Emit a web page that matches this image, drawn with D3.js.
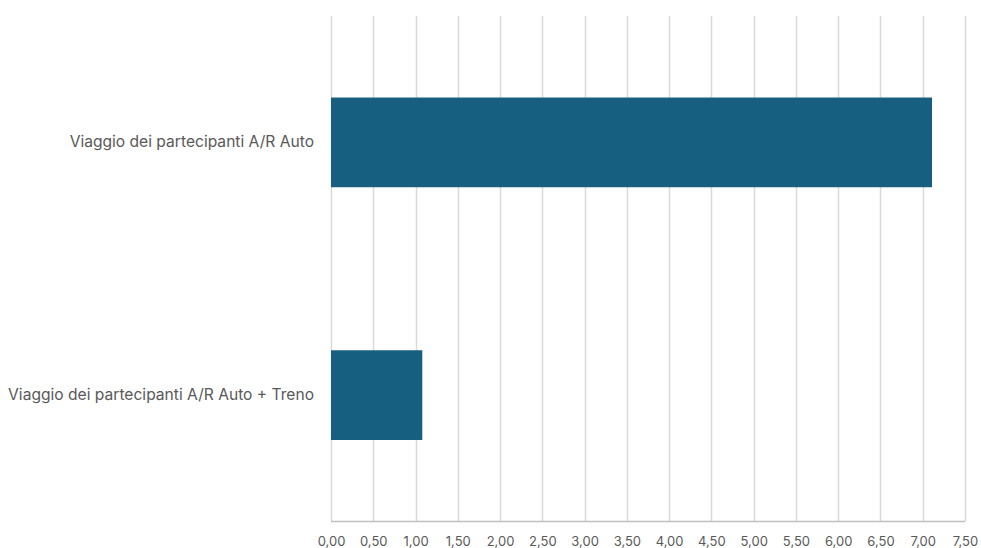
<!DOCTYPE html>
<html>
<head>
<meta charset="utf-8">
<script src="https://cdn.jsdelivr.net/npm/d3@7"></script>
<style>
  html, body { margin: 0; padding: 0; background: #fff; }
  svg { display: block; }
</style>
</head>
<body>
<svg id="chart" width="981" height="548"></svg>
<script>
// Categories and values (travel emissions by mode)
const categories = [
  "Viaggio dei partecipanti A/R Auto",
  "Viaggio dei partecipanti A/R Auto + Treno"
];
const values = [7.11, 1.08];
const tickValues = [0, 0.5, 1, 1.5, 2, 2.5, 3, 3.5, 4, 4.5, 5, 5.5, 6, 6.5, 7, 7.5];

const svg = d3.select("#chart");
const plot = { left: 331, right: 965, top: 16, bottom: 521.5 };
const fontFamily = "Inter, 'Open Sans', sans-serif";
const textColor = "#595959";

const x = d3.scaleLinear().domain([0, 7.5]).range([plot.left, plot.right]);
const y = d3.scaleBand().domain(categories).range([plot.top, plot.bottom])
  .paddingInner(0.645).paddingOuter(0.3225);

const fmt = v => d3.format(".2f")(v).replace(".", ",");

// vertical gridlines
svg.append("g").selectAll("line").data(tickValues).join("line")
  .attr("x1", d => Math.round(x(d)) + 0.5).attr("x2", d => Math.round(x(d)) + 0.5)
  .attr("y1", plot.top).attr("y2", plot.bottom)
  .attr("stroke", "#d9d9d9").attr("stroke-width", 1.5);

// bottom axis line
svg.append("line")
  .attr("x1", plot.left).attr("x2", plot.right)
  .attr("y1", plot.bottom).attr("y2", plot.bottom)
  .attr("stroke", "#bfbfbf").attr("stroke-width", 1.5);

// bars
svg.append("g").selectAll("rect").data(values).join("rect")
  .attr("x", x(0))
  .attr("y", (d, i) => y(categories[i]))
  .attr("width", d => x(d) - x(0))
  .attr("height", y.bandwidth())
  .attr("fill", "#175f80");

// x tick labels
const xAxis = d3.axisBottom(x).tickValues(tickValues).tickFormat(fmt).tickSize(0).tickPadding(0);
const gx = svg.append("g").attr("transform", `translate(0, ${plot.bottom + 15})`).call(xAxis);
gx.select(".domain").remove();
gx.selectAll("text")
  .attr("font-family", fontFamily).attr("font-size", 13)
  .attr("fill", textColor);

// category labels
const yAxis = d3.axisLeft(y).tickSize(0).tickPadding(17);
const gy = svg.append("g").attr("transform", `translate(${plot.left}, 0)`).call(yAxis);
gy.select(".domain").remove();
gy.selectAll("text")
  .attr("font-family", fontFamily).attr("font-size", 15.6)
  .attr("fill", textColor);
</script>
</body>
</html>
